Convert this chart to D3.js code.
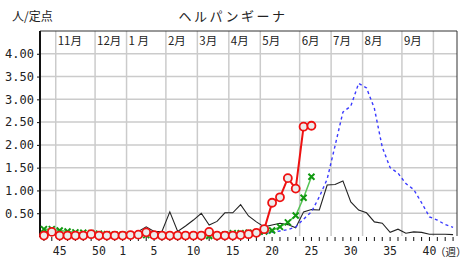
<!DOCTYPE html>
<html>
<head>
<meta charset="utf-8">
<script src="https://cdn.jsdelivr.net/npm/d3@7"></script>
<style>
  body { margin: 0; background: #fff; }
  text { font-family: "Noto Sans CJK JP", sans-serif; fill: #222; }
</style>
</head>
<body>
<div id="chart"></div>
<script>
// weeks shown on the axis: wk43 of last year -> wk43 of this year
const weeks = [43,44,45,46,47,48,49,50,51,52,
  1,2,3,4,5,6,7,8,9,10,11,12,13,14,15,16,17,18,19,20,
  21,22,23,24,25,26,27,28,29,30,31,32,33,34,35,36,37,38,39,40,41,42,43];
const weekLabels = [45,50,1,5,10,15,20,25,30,35,40];
const yTicks = [0.5,1,1.5,2,2.5,3,3.5,4];

// month boundaries (index in weeks[]) and their labels
const monthStart = [2,7,11,16,20,24,28,33,37,41,46,50];
const monthLabels = ["11月","12月","1 月","2月","3月","4月","5月","6月","7月","8月","9月",""];

// this season (red, circles) - up to wk25
const current = [0.01,0.09,0.01,0.01,0.01,0.01,0.04,0.01,0.01,0.01,
  0.01,0.02,0.03,0.08,0.02,0.01,0.01,0.01,0.01,0.01,
  0.01,0.09,0.01,0.01,0.01,0.02,0.04,0.07,0.15,0.73,
  0.85,1.27,1.04,2.40,2.42];
// last season (green, x marks) - up to wk25
const previous = [0.15,0.15,0.12,0.10,0.08,0.07,0.06,0.05,0.04,0.03,
  0.03,0.02,0.02,0.02,0.02,0.01,0.01,0.01,0.01,0.01,
  0.01,0.00,0.01,0.03,0.06,0.06,0.07,0.07,0.10,0.12,
  0.20,0.30,0.45,0.84,1.30];
// black solid
const past1 = [0.03,0.03,0.03,0.03,0.03,0.03,0.03,0.03,0.03,0.03,
  0.03,0.05,0.10,0.20,0.10,0.10,0.53,0.10,0.22,0.35,
  0.50,0.24,0.32,0.51,0.51,0.69,0.44,0.31,0.20,0.24,
  0.28,0.25,0.18,0.53,0.58,0.57,1.12,1.13,1.21,0.75,
  0.57,0.51,0.31,0.28,0.08,0.15,0.06,0.09,0.08,0.04,
  0.04,0.04,0.03];
// blue dashed
const past2 = [0.02,0.02,0.02,0.02,0.02,0.02,0.02,0.02,0.02,0.02,
  0.02,0.02,0.02,0.02,0.02,0.02,0.02,0.02,0.02,0.02,
  0.02,0.02,0.02,0.02,0.02,0.02,0.03,0.04,0.05,0.08,
  0.11,0.14,0.20,0.37,0.53,0.86,1.25,1.98,2.72,2.85,
  3.35,3.25,2.80,1.95,1.50,1.38,1.15,1.02,0.73,0.42,
  0.35,0.25,0.19];

const W = 465, H = 259;
const svg = d3.select("#chart").append("svg").attr("width", W).attr("height", H);

const x = d3.scaleBand().domain(d3.range(weeks.length)).range([40, 457]);
const cx = i => x(i) + x.bandwidth() / 2;
const y = d3.scaleLinear().domain([0, 4.5]).range([236, 31]);

// grid
svg.append("g").selectAll("line").data(yTicks).join("line")
  .attr("x1", 40).attr("x2", 457).attr("y1", d => y(d)).attr("y2", d => y(d))
  .attr("stroke", "#cbcbcb").attr("stroke-width", 1.5);
svg.append("g").selectAll("line").data(monthStart).join("line")
  .attr("x1", d => x(d)).attr("x2", d => x(d)).attr("y1", 31).attr("y2", 236)
  .attr("stroke", "#cbcbcb").attr("stroke-width", 1.5);

// month labels
svg.append("g").selectAll("text").data(monthStart).join("text")
  .attr("x", d => x(d) + 2).attr("y", 45)
  .style("font-size", "11.5px")
  .text((d, i) => monthLabels[i]);

// frame
svg.append("path").attr("fill", "none").attr("stroke", "#333").attr("stroke-width", 1)
  .attr("d", `M40,${y(4.5)}H457V${y(0)}`);
svg.append("line").attr("x1", 40).attr("x2", 40).attr("y1", y(4.5)).attr("y2", y(0) + 1)
  .attr("stroke", "#111").attr("stroke-width", 2);

// y axis
const ya = svg.append("g").attr("transform", "translate(40,0)")
  .call(d3.axisLeft(y).tickValues(yTicks).tickFormat(d3.format(".2f")).tickSize(3).tickPadding(3));
ya.select(".domain").remove();
ya.selectAll("line").attr("stroke", "#111");
ya.selectAll("text").style("font-family", "'DejaVu Sans Mono', monospace").style("font-size", "12px").attr("fill", "#222");

// x axis
const xa = svg.append("g").attr("transform", `translate(0,${y(0) + 1})`)
  .call(d3.axisBottom(x).tickSize(4).tickPadding(6)
    .tickFormat(i => weekLabels.includes(weeks[i]) ? weeks[i] : ""));
xa.select(".domain").remove();
xa.selectAll("line").attr("stroke", "#111");
xa.selectAll("text").style("font-family", "'DejaVu Sans Mono', monospace").style("font-size", "11.5px").attr("fill", "#222");
svg.append("text").attr("x", 435).attr("y", 256).style("font-size", "10.5px").text("（週）");

// titles
svg.append("text").attr("x", 233).attr("y", 21).attr("text-anchor", "middle")
  .style("font-size", "13px").style("letter-spacing", "2.5px").text("ヘルパンギーナ");
svg.append("text").attr("x", 12).attr("y", 21).style("font-size", "12px").text("人/定点");

const line = d3.line().x((d, i) => cx(i)).y(d => y(d));

// past seasons
svg.append("path").datum(past1).attr("fill", "none").attr("stroke", "#222").attr("stroke-width", 1.1).attr("d", line);
svg.append("path").datum(past2).attr("fill", "none").attr("stroke", "#3a3aff").attr("stroke-width", 1.4)
  .attr("stroke-dasharray", "3,3").attr("d", line);

// last season
svg.append("path").datum(previous).attr("fill", "none").attr("stroke", "#55c455").attr("stroke-width", 1.5).attr("d", line);
svg.append("g").selectAll("path").data(previous).join("path")
  .attr("transform", (d, i) => `translate(${cx(i)},${y(d)})`)
  .attr("d", "M-3,-3L3,3M-3,3L3,-3")
  .attr("stroke", "#119911").attr("stroke-width", 2).attr("fill", "none");

// this season
svg.append("path").datum(current).attr("fill", "none").attr("stroke", "#ee1111").attr("stroke-width", 2).attr("d", line);
svg.append("g").selectAll("circle").data(current).join("circle")
  .attr("cx", (d, i) => cx(i)).attr("cy", d => y(d)).attr("r", 4)
  .attr("fill", "#ececec").attr("stroke", "#ee1111").attr("stroke-width", 1.8);
</script>
</body>
</html>
